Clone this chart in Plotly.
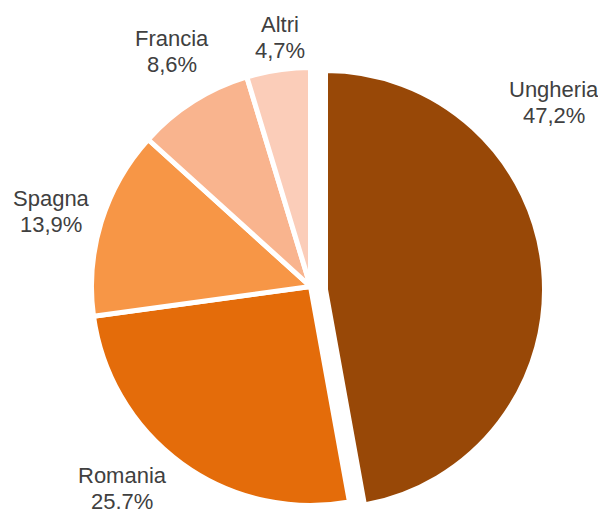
import math
import plotly.graph_objects as go

# Paesi e quote (%)
paesi = ["Ungheria", "Romania", "Spagna", "Francia", "Altri"]
quote = [47.2, 25.7, 13.9, 8.6, 4.7]
etichette = ["47,2%", "25.7%", "13,9%", "8,6%", "4,7%"]
colori = ["#984807", "#E46C0A", "#F79646", "#F9B48E", "#FBCDB9"]

# posizione delle etichette: scarto angolare (gradi) e distanza dal centro (px)
scarto_ang = [-31.9, 7, -1, 1.8, 1.4]
distanza = [305, 276, 270, 273, 251]

# la pagina html ha un margine di 8 px attorno alla figura
OFF = 8
W, H = 606 - OFF, 514 - OFF
cx, cy = 310.5 - OFF, 286.5 - OFF   # centro della torta (px nella figura)
R = 219                             # raggio
stacco = (15, 3)                    # spostamento della fetta "Ungheria" esplosa


def dominio(x0, y0, r):
    return dict(x=[(x0 - r) / W, (x0 + r) / W],
                y=[1 - (y0 + r) / H, 1 - (y0 - r) / H])


trasparente = "rgba(0,0,0,0)"
resto = sum(quote[1:])

fig = go.Figure()
# torta senza la fetta principale
fig.add_trace(go.Pie(
    labels=paesi, values=quote,
    textinfo="none", sort=False, direction="clockwise", rotation=0,
    marker=dict(colors=[trasparente] + colori[1:],
                line=dict(color="white", width=[0, 5, 5, 5, 5])),
    hoverinfo="label+percent",
    domain=dominio(cx, cy, R),
))
# fetta "Ungheria" staccata
fig.add_trace(go.Pie(
    labels=[paesi[0], "resto"], values=[quote[0], resto],
    textinfo="none", sort=False, direction="clockwise", rotation=0,
    marker=dict(colors=[colori[0], trasparente],
                line=dict(color="white", width=[5, 0])),
    hoverinfo="skip",
    domain=dominio(cx + stacco[0], cy + stacco[1], R),
))

fig.update_layout(
    width=W, height=H,
    showlegend=False,
    margin=dict(l=0, r=0, t=0, b=0),
    paper_bgcolor="white",
    plot_bgcolor="white",
)

# etichette esterne, poste sull'angolo medio di ogni fetta
font = dict(family="Liberation Sans, Arial", size=22, color="#404040")
totale = sum(quote)
cum = 0
for p, e, q, da, d in zip(paesi, etichette, quote, scarto_ang, distanza):
    ang = math.radians((cum + q / 2) / totale * 360 + da)
    cum += q
    px = cx + d * math.sin(ang)
    py = cy - d * math.cos(ang)
    for riga, dy in ((p, 13), (e, -13)):
        fig.add_annotation(
            x=px / W, y=1 - py / H, xref="paper", yref="paper",
            text=riga, showarrow=False, font=font, yshift=dy,
            xanchor="center", yanchor="middle",
        )

fig.write_html("out.html")
